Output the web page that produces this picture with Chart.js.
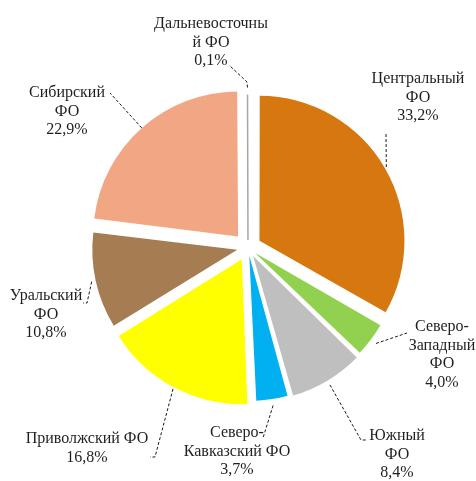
<!DOCTYPE html>
<html>
<head>
<meta charset="utf-8">
<script src="https://cdn.jsdelivr.net/npm/chart.js@4/dist/chart.umd.min.js"></script>
<style>
  html, body { margin: 0; padding: 0; background: #fff; }
  #wrap { width: 476px; height: 481px; position: relative; }
</style>
</head>
<body>
<div id="wrap"><canvas id="pie"></canvas></div>
<script>
// Доли федеральных округов, %
var districts = ['Центральный ФО', 'Северо-Западный ФО', 'Южный ФО', 'Северо-Кавказский ФО',
                 'Приволжский ФО', 'Уральский ФО', 'Сибирский ФО', 'Дальневосточный ФО'];
var shares = [33.2, 4.0, 8.4, 3.7, 16.8, 10.8, 22.9, 0.1];
var colors = ['#D7770F', '#92D050', '#BFBFBF', '#00B0F0', '#FFFF00', '#A67C52', '#F2A784', '#A6A6A6'];

// Переносы строк в подписях
var labelLines = [
    ['Центральный', 'ФО'],
    ['Северо-', 'Западный', 'ФО'],
    ['Южный', 'ФО'],
    ['Северо-', 'Кавказский ФО'],
    ['Приволжский ФО'],
    ['Уральский', 'ФО'],
    ['Сибирский', 'ФО'],
    ['Дальневосточны', 'й ФО']
];

// Где стоят подписи (центр первой строки) и куда идут выноски
var labelPos = [
    { x: 418, y: 79,  leader: [[386, 133]] },
    { x: 442, y: 327, leader: [[407, 333]] },
    { x: 397, y: 436, leader: [[361, 440], [366, 440]] },
    { x: 237, y: 433, leader: [[263, 438]] },
    { x: 87,  y: 439, leader: [[155, 457], [150, 457]] },
    { x: 46,  y: 296, leader: [[87, 303], [83, 303]] },
    { x: 67,  y: 93,  leader: [[110, 93]] },
    { x: 211, y: 24,  leader: [[247, 82], [229, 65]] }
];

var RADIUS = 145;
var SHIFT = 15;      // насколько выдвинут каждый сектор
var LINE_H = 18.5;
var FONT = '16px "Liberation Serif", "Times New Roman", serif';
var total = shares.reduce(function (a, b) { return a + b; }, 0);

function fmt(v) {
    return v.toFixed(1).replace('.', ',') + '%';
}

// Chart.js сдвигает сектор на offset/4*(1+fix), подбираем offset под одинаковый сдвиг
function sliceOffset(ctx) {
    var circ = shares[ctx.dataIndex] / total * Math.PI * 2;
    var fix = 1 - Math.sin(Math.min(Math.PI, circ));
    return SHIFT * 4 / (1 + fix);
}

function arcFix(arc) {
    return 1 - Math.sin(Math.min(Math.PI, arc.circumference));
}

var calloutPlugin = {
    id: 'callouts',
    // при отрисовке радиус тоже растёт на offset/4*fix — убираем эту добавку
    beforeDatasetsDraw: function (chart) {
        chart.getDatasetMeta(0).data.forEach(function (arc) {
            var off = (arc.options.offset || 0) / 4;
            arc.outerRadius = RADIUS - off * arcFix(arc);
        });
    },
    afterDraw: function (chart) {
        var c = chart.ctx;
        var arcs = chart.getDatasetMeta(0).data;
        c.save();
        arcs.forEach(function (arc, i) {
            var off = (arc.options.offset || 0) / 4;
            var mid = (arc.startAngle + arc.endAngle) / 2;
            var dist = off * (1 + arcFix(arc)) + RADIUS;
            var sx = arc.x + Math.cos(mid) * dist;
            var sy = arc.y + Math.sin(mid) * dist;

            // выноска
            c.strokeStyle = '#1a1a1a';
            c.lineWidth = 1;
            c.setLineDash([3, 2]);
            c.beginPath();
            c.moveTo(sx, sy);
            labelPos[i].leader.forEach(function (pt) { c.lineTo(pt[0], pt[1]); });
            c.stroke();
            c.setLineDash([]);

            // текст подписи
            var lines = labelLines[i].concat([fmt(shares[i])]);
            c.fillStyle = '#1f1f1f';
            c.font = FONT;
            c.textAlign = 'center';
            c.textBaseline = 'middle';
            lines.forEach(function (t, k) {
                c.fillText(t, labelPos[i].x, labelPos[i].y + k * LINE_H);
            });
        });
        c.restore();
    }
};

var chart = new Chart(document.getElementById('pie').getContext('2d'), {
    type: 'pie',
    data: {
        labels: districts,
        datasets: [{
            data: shares,
            backgroundColor: colors,
            borderColor: colors,
            borderWidth: [0, 0, 0, 0, 0, 0, 0, 1.5],
            offset: sliceOffset
        }]
    },
    options: {
        responsive: true,
        maintainAspectRatio: false,
        animation: false,
        radius: RADIUS,
        layout: {
            padding: { left: 20, right: 0, top: 14, bottom: 0 }
        },
        plugins: {
            legend: { display: false },
            tooltip: { enabled: false }
        }
    },
    plugins: [calloutPlugin]
});
</script>
</body>
</html>
